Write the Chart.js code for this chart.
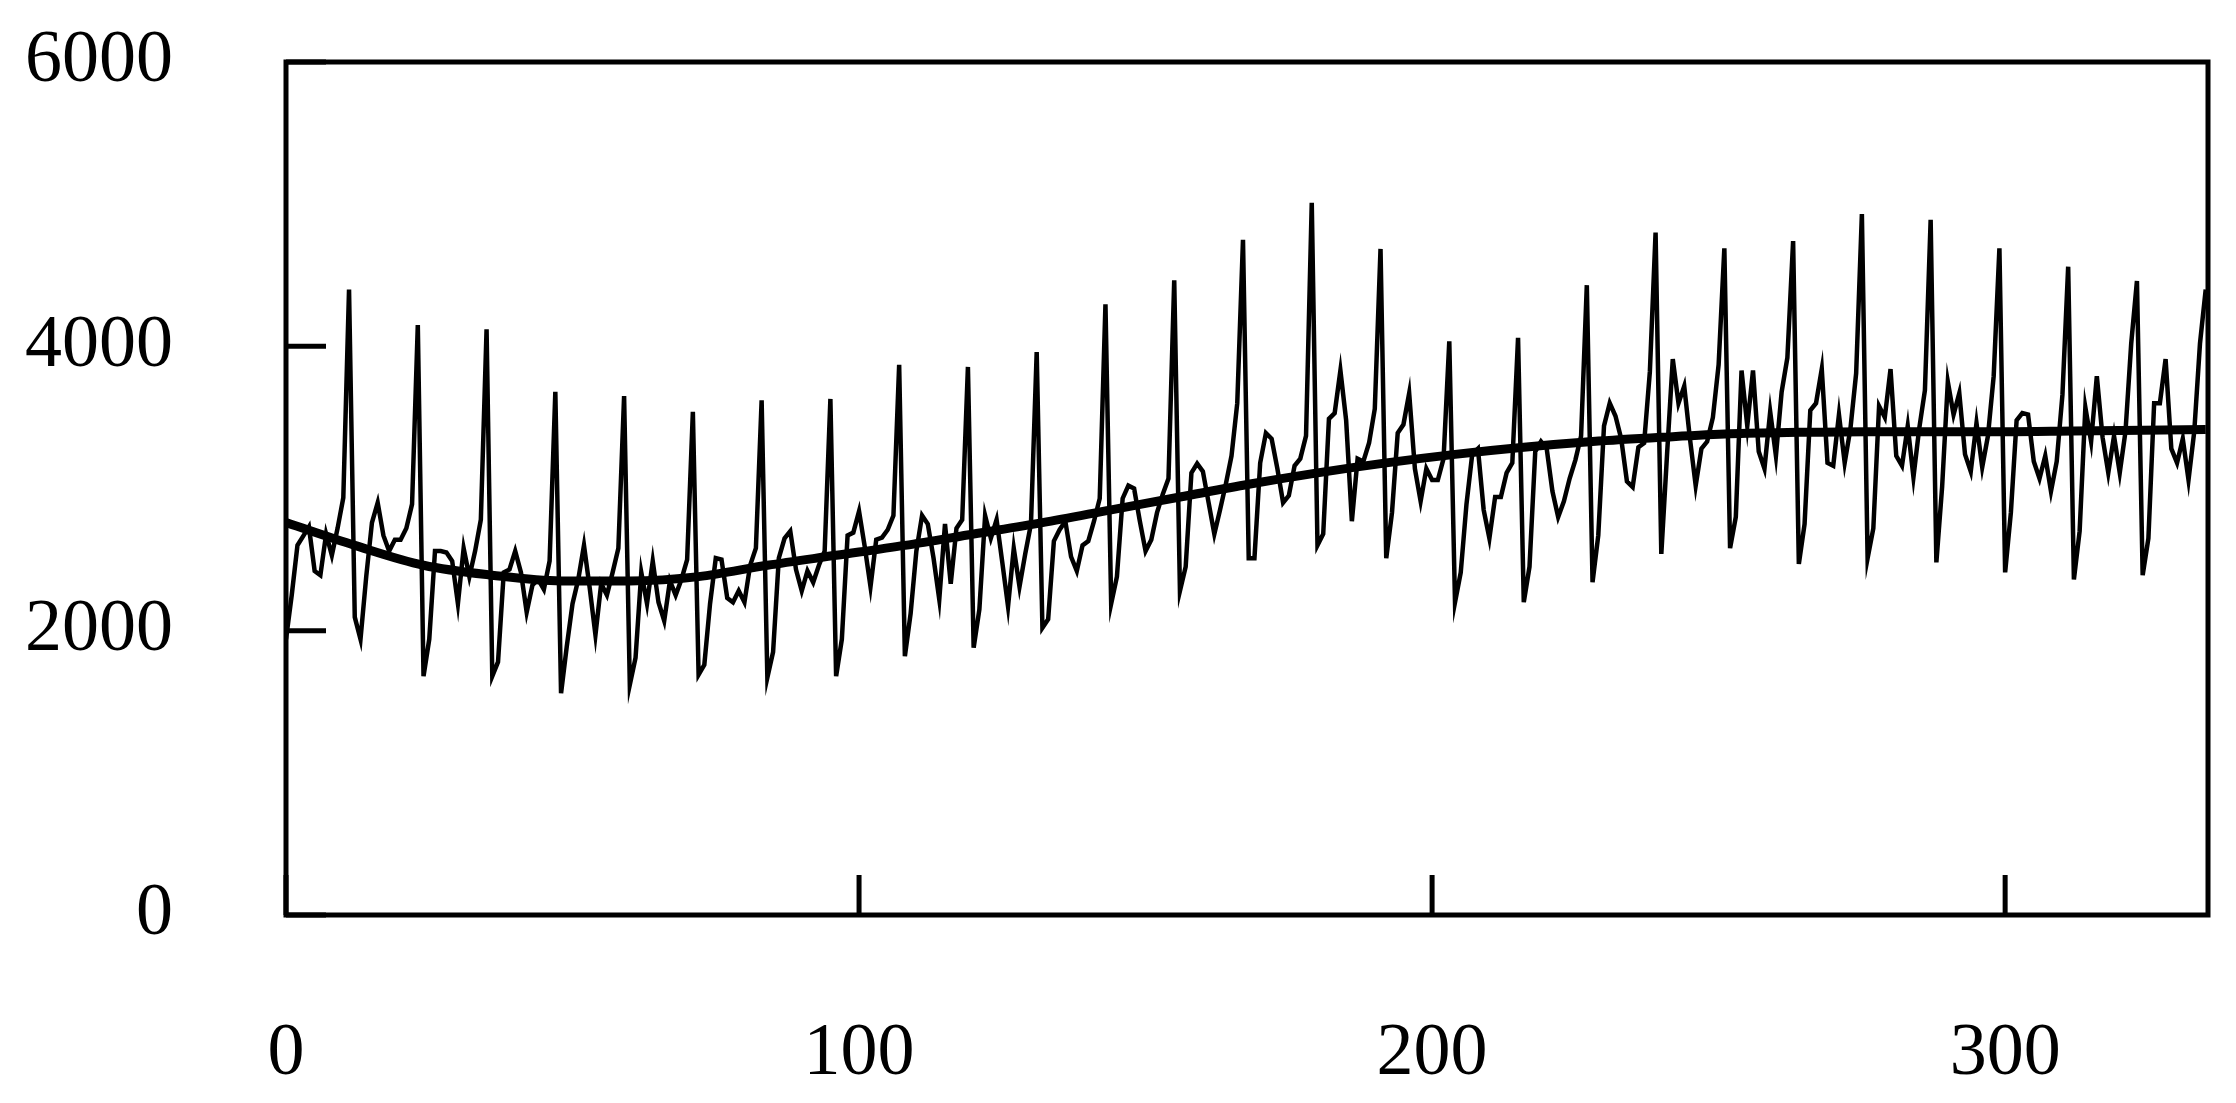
<!DOCTYPE html>
<html>
<head>
<meta charset="utf-8">
<script src="https://cdn.jsdelivr.net/npm/chart.js@4.4.0/dist/chart.umd.min.js"></script>
<style>
  html, body { margin: 0; padding: 0; background: #fff; }
  #wrap { width: 2236px; height: 1103px; }
</style>
</head>
<body>
<div id="wrap"><canvas id="c"></canvas></div>
<script>
// monthly series, index 0..335 (spike every 12th point)
const seriesValues = [
  1940, 2250, 2600, 2665, 2730, 2420, 2390, 2680, 2530, 2720, 2935, 4400,
  2095, 1940, 2380, 2760, 2900, 2670, 2560, 2640, 2640, 2720, 2890, 4150,
  1680, 1940, 2560, 2560, 2550, 2490, 2190, 2580, 2380, 2560, 2780, 4120,
  1680, 1780, 2410, 2430, 2560, 2410, 2130, 2320, 2360, 2290, 2490, 3680,
  1560, 1890, 2190, 2360, 2600, 2300, 1970, 2330, 2250, 2410, 2580, 3650,
  1620, 1810, 2410, 2190, 2490, 2200, 2070, 2350, 2250, 2360, 2500, 3540,
  1690, 1760, 2190, 2510, 2500, 2230, 2200, 2280, 2200, 2460, 2580, 3620,
  1670, 1850, 2510, 2650, 2700, 2430, 2280, 2420, 2340, 2460, 2560, 3630,
  1680, 1940, 2670, 2690, 2840, 2590, 2310, 2640, 2655, 2710, 2810, 3870,
  1820, 2120, 2560, 2810, 2750, 2510, 2220, 2750, 2330, 2720, 2780, 3855,
  1880, 2150, 2810, 2650, 2780, 2480, 2170, 2580, 2310, 2540, 2750, 3960,
  2020, 2080, 2630, 2710, 2770, 2520, 2420, 2600, 2630, 2770, 2930, 4295,
  2190, 2380, 2930, 3020, 3000, 2770, 2560, 2640, 2830, 2960, 3070, 4465,
  2280, 2450, 3110, 3175, 3120, 2900, 2680, 2850, 3030, 3230, 3600, 4750,
  2510, 2510, 3180, 3390, 3350, 3140, 2900, 2950, 3160, 3210, 3370, 5010,
  2600, 2680, 3490, 3530, 3830, 3480, 2770, 3210, 3190, 3320, 3560, 4685,
  2510, 2830, 3390, 3450, 3670, 3140, 2910, 3140, 3060, 3060, 3210, 4035,
  2200, 2410, 2890, 3240, 3280, 2850, 2650, 2940, 2940, 3110, 3180, 4060,
  2200, 2450, 3260, 3330, 3280, 2980, 2800, 2910, 3070, 3200, 3370, 4430,
  2340, 2670, 3440, 3600, 3510, 3350, 3050, 3010, 3290, 3320, 3820, 4800,
  2540, 3240, 3910, 3600, 3720, 3350, 3020, 3280, 3330, 3500, 3870, 4690,
  2580, 2800, 3830, 3440, 3830, 3260, 3140, 3540, 3230, 3680, 3920, 4740,
  2470, 2750, 3550, 3600, 3840, 3180, 3160, 3520, 3180, 3420, 3810, 4930,
  2510, 2720, 3580, 3500, 3840, 3230, 3160, 3440, 3080, 3420, 3690, 4890,
  2480, 3010, 3750, 3520, 3670, 3240, 3120, 3460, 3150, 3370, 3790, 4690,
  2410, 2830, 3480, 3530, 3520, 3190, 3070, 3230, 2980, 3190, 3660, 4560,
  2360, 2700, 3570, 3330, 3790, 3360, 3110, 3370, 3110, 3400, 4020, 4460,
  2390, 2650, 3600, 3600, 3910, 3280, 3180, 3350, 3060, 3400, 4020, 4400
];

// smooth trend, read at yearly knots
const trendX = [0, 12, 24, 36, 48, 60, 72, 84, 96, 108, 120, 132, 144, 156, 168,
  180, 192, 204, 216, 228, 240, 252, 264, 276, 288, 300, 312, 324, 335];
const trendValues = [2760, 2600, 2460, 2390, 2350, 2350, 2380, 2460, 2530, 2600,
  2680, 2760, 2850, 2940, 3030, 3110, 3180, 3240, 3290, 3330, 3360, 3385, 3395,
  3400, 3400, 3400, 3405, 3410, 3415];

const xTicks = [0, 100, 200, 300];
const yTicks = [0, 2000, 4000, 6000];

const font = { family: "'Liberation Serif', 'DejaVu Serif', serif", size: 74 };

// inward ticks + closing the frame
const framePlugin = {
  id: 'frame',
  afterDraw(chart) {
    const { ctx, chartArea: a, scales } = chart;
    ctx.save();
    ctx.strokeStyle = '#000';
    ctx.lineWidth = 5;
    ctx.strokeRect(a.left, a.top, a.right - a.left, a.bottom - a.top);
    ctx.beginPath();
    yTicks.forEach(v => {
      const y = scales.y.getPixelForValue(v);
      ctx.moveTo(a.left, y);
      ctx.lineTo(a.left + 40, y);
    });
    xTicks.forEach(v => {
      const x = scales.x.getPixelForValue(v);
      ctx.moveTo(x, a.bottom);
      ctx.lineTo(x, a.bottom - 40);
    });
    ctx.stroke();
    ctx.restore();
  }
};

new Chart(document.getElementById('c'), {
  type: 'line',
  data: {
    datasets: [
      {
        data: seriesValues.map((v, i) => ({ x: i, y: v })),
        borderColor: '#000',
        borderWidth: 4.5,
        pointRadius: 0,
        tension: 0,
        fill: false,
      },
      {
        data: trendX.map((x, i) => ({ x: x, y: trendValues[i] })),
        borderColor: '#000',
        borderWidth: 9,
        pointRadius: 0,
        cubicInterpolationMode: 'monotone',
        fill: false,
      },
    ],
  },
  options: {
    responsive: true,
    maintainAspectRatio: false,
    animation: false,
    layout: { padding: { top: 62, right: 28, left: 0, bottom: 0 } },
    plugins: { legend: { display: false }, tooltip: { enabled: false } },
    scales: {
      x: {
        type: 'linear',
        min: 0,
        max: 335.4,
        afterBuildTicks: s => { s.ticks = xTicks.map(v => ({ value: v })); },
        afterFit: s => { s.height = 188; s.paddingLeft = 0; s.paddingRight = 0; },
        grid: { display: false, drawTicks: false },
        border: { display: false },
        ticks: { color: '#000', font: font, padding: 95, maxRotation: 0 },
      },
      y: {
        min: 0,
        max: 6000,
        afterBuildTicks: s => { s.ticks = yTicks.map(v => ({ value: v })); },
        afterFit: s => { s.width = 286; s.paddingTop = 0; s.paddingBottom = 0; },
        grid: { display: false, drawTicks: false },
        border: { display: false },
        ticks: { color: '#000', font: font, padding: 113, callback: v => String(v) },
      },
    },
  },
  plugins: [framePlugin],
});
</script>
</body>
</html>
